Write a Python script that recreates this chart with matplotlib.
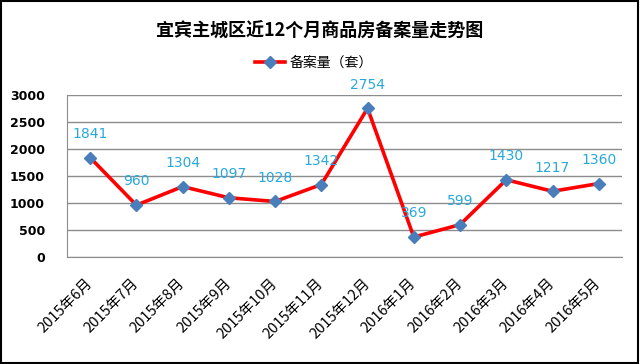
import matplotlib
matplotlib.use("Agg")
import matplotlib.pyplot as plt
from matplotlib.patches import Rectangle
from matplotlib.transforms import ScaledTranslation

plt.rcParams['font.family'] = ['Noto Sans CJK SC', 'DejaVu Sans']

months = ["2015年6月", "2015年7月", "2015年8月", "2015年9月", "2015年10月", "2015年11月",
          "2015年12月", "2016年1月", "2016年2月", "2016年3月", "2016年4月", "2016年5月"]
values = [1841, 960, 1304, 1097, 1028, 1342, 2754, 369, 599, 1430, 1217, 1360]
yticks = [0, 500, 1000, 1500, 2000, 2500, 3000]
title = "宜宾主城区近12个月商品房备案量走势图"
series_name = "备案量（套）"

fig = plt.figure(figsize=(6.4, 3.64), dpi=100)
ax = fig.add_axes([0.1047, 0.294, 0.867, 0.445])

x = list(range(len(months)))
line, = ax.plot(x, values, color='#ff0000', lw=2.6, marker='D', markersize=6.5,
                markerfacecolor='#4a7ebb', markeredgecolor='#4a7ebb', zorder=3,
                label=series_name)

for xi, v in zip(x, values):
    ax.annotate(str(v), (xi, v), xytext=(0, 12), textcoords='offset points',
                ha='center', va='bottom', color='#29a8dc', fontsize=10,
                family=['DejaVu Sans'])

ax.set_xlim(-0.5, len(months) - 0.5)
ax.set_ylim(0, 3000)
ax.set_yticks(yticks)
ax.set_yticklabels([str(t) for t in yticks], fontsize=9, fontweight='bold',
                   family=['DejaVu Sans'])
ax.set_xticks(x)
ax.set_xticklabels(months, rotation=45, ha='right', rotation_mode='anchor', fontsize=10.5)
ax.tick_params(axis='both', length=0)
ax.tick_params(axis='x', pad=14)
ax.tick_params(axis='y', pad=16)
shift = ScaledTranslation(-5 / 100, 0, fig.dpi_scale_trans)
for lbl in ax.get_xticklabels():
    lbl.set_transform(lbl.get_transform() + shift)

ax.grid(axis='y', color='#8c8c8c', lw=1)
ax.set_axisbelow(True)
for s in ['top', 'right']:
    ax.spines[s].set_visible(False)
ax.spines['left'].set_color('#8c8c8c')
ax.spines['bottom'].set_color('#8c8c8c')

fig.text(0.5, 0.915, title, ha='center', va='center', fontsize=13, fontweight='bold')
fig.legend(handles=[line], loc='center', bbox_to_anchor=(0.49, 0.827), frameon=False,
           fontsize=10, handlelength=2.2, handletextpad=0.3)

fig.patches.append(Rectangle((0.002, 0.003), 0.995, 0.994, transform=fig.transFigure,
                             fill=False, edgecolor='black', lw=1.5))

fig.savefig("out.png", dpi=100)
